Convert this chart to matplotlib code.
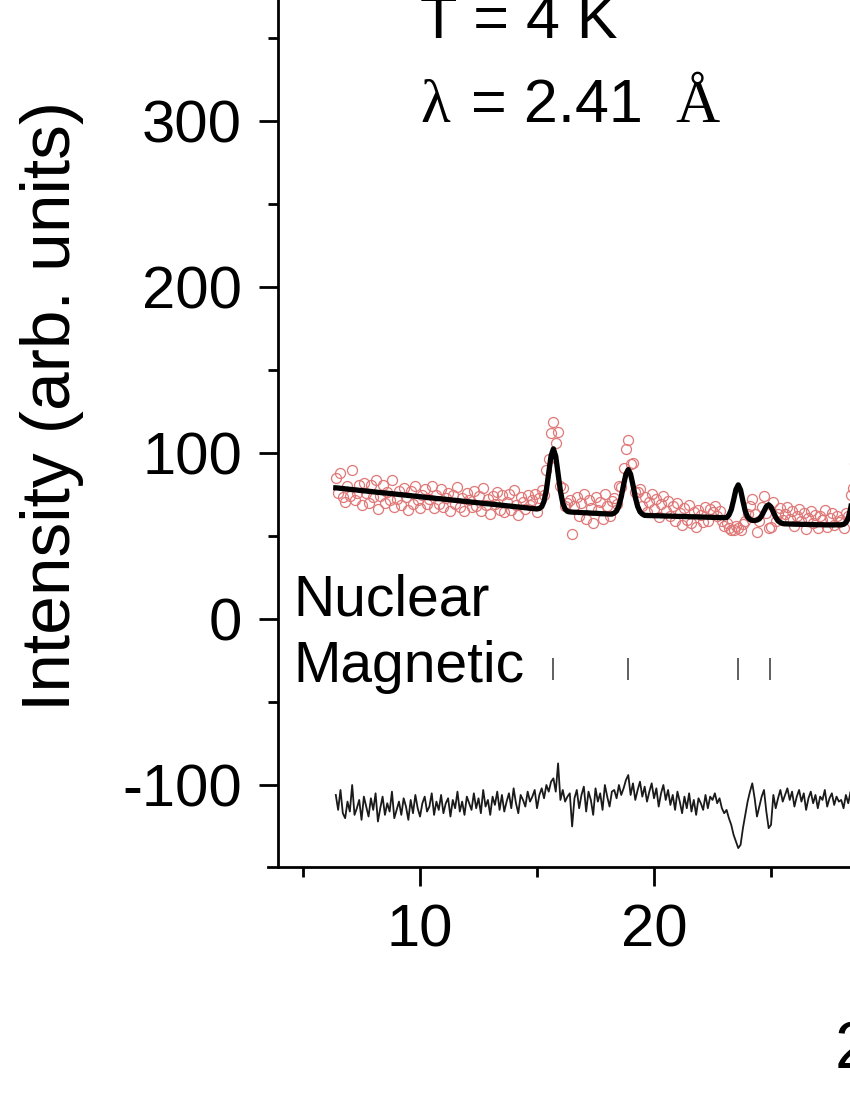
import numpy as np
import matplotlib
matplotlib.use("Agg")
import matplotlib.pyplot as plt
from matplotlib.ticker import MultipleLocator

plt.rcParams['font.family'] = ['Liberation Sans', 'DejaVu Sans']
plt.rcParams['axes.unicode_minus'] = False

# 2theta grid starts at 6.4 deg, 0.1 deg step
theta_start = 6.4
theta_step = 0.1

# calculated profile
calc = [
    79.0, 78.9, 78.7, 78.6, 78.4, 78.3, 78.1, 78.0, 77.8, 77.7,
    77.5, 77.4, 77.2, 77.1, 76.9, 76.8, 76.6, 76.5, 76.3, 76.2,
    76.0, 75.9, 75.8, 75.6, 75.5, 75.3, 75.2, 75.0, 74.9, 74.7,
    74.6, 74.4, 74.3, 74.1, 74.0, 73.8, 73.7, 73.5, 73.4, 73.2,
    73.1, 72.9, 72.8, 72.6, 72.5, 72.4, 72.2, 72.1, 71.9, 71.8,
    71.6, 71.5, 71.3, 71.2, 71.0, 70.9, 70.7, 70.6, 70.4, 70.3,
    70.1, 70.0, 69.8, 69.7, 69.5, 69.4, 69.3, 69.1, 69.0, 68.8,
    68.7, 68.5, 68.4, 68.2, 68.1, 67.9, 67.8, 67.6, 67.5, 67.3,
    67.2, 67.0, 66.9, 66.7, 66.6, 66.4, 66.3,
    # peak 15.7
    66.6, 67.6, 70.9, 77.8, 88.1, 98.3, 102.5, 98.0, 87.5, 77.0, 69.8, 66.2, 64.8,
    64.5, 64.4, 64.3, 64.3, 64.2, 64.1, 64.0, 64.0, 63.9, 63.8,
    63.7, 63.7, 63.6, 63.5, 63.4, 63.4, 63.3, 63.2, 63.2,
    # peak 18.9
    63.8, 65.1, 68.2, 73.6, 80.9, 87.3, 90.0, 87.2, 80.7, 73.3, 67.8, 64.6, 63.2,
    62.4, 62.4, 62.3, 62.3, 62.2, 62.2, 62.2, 62.1, 62.1, 62.0,
    62.0, 62.0, 61.9, 61.9, 61.8, 61.8, 61.8, 61.7, 61.7, 61.6,
    61.6, 61.6, 61.5, 61.5, 61.4, 61.4, 61.4, 61.3, 61.3, 61.2,
    61.2, 61.2, 61.1, 61.1, 61.0, 61.1,
    # peaks 23.6 and 24.9
    62.6, 65.8, 71.6, 78.0, 80.8, 77.7, 71.0, 64.9, 61.4, 59.9,
    59.4, 59.3, 59.6, 60.3, 62.2, 65.0, 67.8, 68.8, 67.5, 64.4,
    61.3, 59.1, 58.1, 57.5,
    57.3, 57.3, 57.2, 57.2, 57.1, 57.1, 57.1, 57.0, 57.0, 57.0,
    56.9, 56.9, 56.9, 56.8, 56.8, 56.8, 56.8, 56.7, 56.7, 56.7,
    56.7, 56.7, 56.8, 56.7,
    # next peak, mostly off the picture
    56.8, 57.0, 58.0, 60.8, 66.4, 74.9, 83.2, 86.7, 83.2, 74.9,
]

# observed - calculated (difference curve, before offset)
resid = [
    6, -3, 9, -5, -8, 2, -4, 12, -6, -2,
    3, -9, 5, -1, -7, 4, -3, 7, -10, -2,
    5, -6, 1, -4, 8, -8, -3, 2, -6, 4,
    -1, -9, 3, -5, 6, -2, -7, 1, 5, -4,
    -1, 7, -6, 2, -3, 6, -5, 1, 4, -7,
    3, -2, 8, -4, 2, -6, 5, 1, -3, 7,
    -2, 4, -5, 9, -1, 3, -6, 5, 0, 8,
    -3, 6, -4, 2, 7, -2, 10, 1, -5, 6,
    3, -1, 8, 2, 5, 9, -2,
    6, 10, 4, 12, 8, 14, 16, 8, 25, 3, 9, 2, 5,
    7, -13, 4, 9, -2, 6, 11, -4, 8, 3,
    -6, 10, 2, 7, -3, 12, 5, -1, 8,
    9, 4, 12, 6, 10, 15, 18, 6, 13, 3, 9, 14, 5,
    11, 2, 8, 13, 4, 10, -1, 7, 12, 3,
    9, 0, 6, -3, 8, 2, -5, 5, -2, 7,
    -4, 3, -6, 4, 1, -3, 6, -2, 5, 3,
    7, 1, 4, -2, -5, -3,
    -8, -12, -18, -22, -26, -24, -14, -6, 2, 8,
    13, 4, -7, -1, 5, 9, -4, -14, -12, 6,
    -2, 4, 9, 2,
    6, 10, 3, 8, -1, 5, 9, 2, 7, -3,
    4, 8, 1, 6, -2, 5, 3, 9, -1, 4,
    7, 0, 5, 2,
    3, -2, 6, 1, 8, 4, 10, 2, 7, 5,
]

diff_offset = -112
magnetic_pos = [15.68, 18.89, 23.59, 24.96]

calc = np.array(calc)
resid = np.array(resid, dtype=float)
two_theta = theta_start + theta_step * np.arange(len(calc))
obs = calc + resid

fig = plt.figure(figsize=(8.5, 11), dpi=100)
# axes runs past the right and top edges of the picture (cropped figure)
ax = fig.add_axes([278 / 850, 233 / 1100, 844 / 850, 912 / 1100])

ax.plot(two_theta, obs, 'o', mfc='none', mec='#e07878', ms=7.2, mew=0.9, zorder=2)
ax.plot(two_theta, calc, '-', color='black', lw=3.8, zorder=3)
ax.plot(two_theta, resid + diff_offset, '-', color='#1a1a1a', lw=1.3, zorder=3)
ax.vlines(magnetic_pos, -36.5, -23.5, color='#444444', lw=1.2)

ax.set_xlim(3.93, 40)
ax.set_ylim(-149.4, 400)

for s in ['top', 'right']:
    ax.spines[s].set_visible(False)
for s in ['left', 'bottom']:
    ax.spines[s].set_linewidth(2.0)
ax.spines['bottom'].set_bounds(3.5, 40)

ax.xaxis.set_major_locator(MultipleLocator(10))
ax.xaxis.set_minor_locator(MultipleLocator(5))
ax.yaxis.set_major_locator(MultipleLocator(100))
ax.yaxis.set_minor_locator(MultipleLocator(50))
ax.tick_params(which='major', direction='out', length=14, width=2, labelsize=43, pad=12)
ax.tick_params(which='minor', direction='out', length=7.5, width=2)

ax.text(10.0, 350, 'T = 4 K', fontsize=44, va='baseline', ha='left')
ax.text(10.0, 299.4, 'λ', fontsize=44, va='baseline', ha='left', family=['Liberation Serif'])
ax.text(12.18, 299.4, '= 2.41', fontsize=44, va='baseline', ha='left')
ax.text(20.9, 299.4, 'Å', fontsize=44, va='baseline', ha='left', family=['Liberation Serif'])

ax.text(4.57, 2.4, 'Nuclear', fontsize=41, va='baseline', ha='left')
ax.text(4.57, -38, 'Magnetic', fontsize=41, va='baseline', ha='left')

fig.text(52 / 850, 1 - 406 / 1100, 'Intensity (arb. units)', fontsize=50,
         rotation=90, ha='center', va='center')
fig.text(835 / 850, 32 / 1100, '2θ (degree)', fontsize=48, ha='left', va='baseline')

fig.savefig('out.png', dpi=100)
